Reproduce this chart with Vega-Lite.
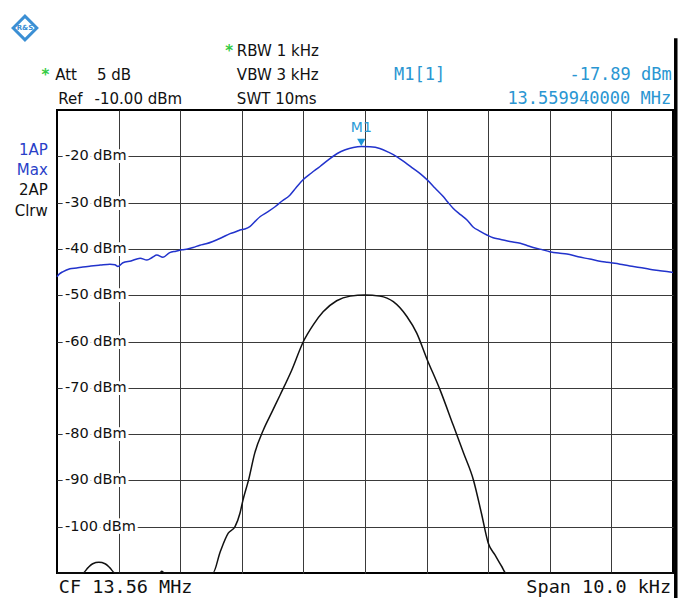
{
  "$schema": "https://vega.github.io/schema/vega-lite/v6.json",
  "width": 616,
  "height": 463,
  "autosize": "none",
  "padding": {"left": 57, "top": 110, "right": 14, "bottom": 25},
  "background": "white",
  "config": {
    "view": {"stroke": "#000000", "strokeWidth": 2},
    "axis": {"grid": true, "gridColor": "#3a3a3a", "gridWidth": 1, "gridOpacity": 1, "labels": false, "ticks": false, "domain": false, "title": null},
    "text": {"font": "DejaVu Sans"}
  },
  "datasets": {
    "traces": [
      {"f": -5.0, "dbm": -46.0, "trace": "1AP Max"},
      {"f": -4.96, "dbm": -45.4, "trace": "1AP Max"},
      {"f": -4.9, "dbm": -44.9, "trace": "1AP Max"},
      {"f": -4.79, "dbm": -44.3, "trace": "1AP Max"},
      {"f": -4.68, "dbm": -44.1, "trace": "1AP Max"},
      {"f": -4.58, "dbm": -43.9, "trace": "1AP Max"},
      {"f": -4.45, "dbm": -43.7, "trace": "1AP Max"},
      {"f": -4.3, "dbm": -43.5, "trace": "1AP Max"},
      {"f": -4.14, "dbm": -43.3, "trace": "1AP Max"},
      {"f": -4.06, "dbm": -43.4, "trace": "1AP Max"},
      {"f": -4.01, "dbm": -43.8, "trace": "1AP Max"},
      {"f": -3.93, "dbm": -43.0, "trace": "1AP Max"},
      {"f": -3.8, "dbm": -42.6, "trace": "1AP Max"},
      {"f": -3.65, "dbm": -42.0, "trace": "1AP Max"},
      {"f": -3.54, "dbm": -42.4, "trace": "1AP Max"},
      {"f": -3.45, "dbm": -41.8, "trace": "1AP Max"},
      {"f": -3.38, "dbm": -41.3, "trace": "1AP Max"},
      {"f": -3.28, "dbm": -41.8, "trace": "1AP Max"},
      {"f": -3.17, "dbm": -40.8, "trace": "1AP Max"},
      {"f": -3.07, "dbm": -40.5, "trace": "1AP Max"},
      {"f": -2.97, "dbm": -40.2, "trace": "1AP Max"},
      {"f": -2.88, "dbm": -40.0, "trace": "1AP Max"},
      {"f": -2.79, "dbm": -39.7, "trace": "1AP Max"},
      {"f": -2.68, "dbm": -39.2, "trace": "1AP Max"},
      {"f": -2.58, "dbm": -38.9, "trace": "1AP Max"},
      {"f": -2.47, "dbm": -38.4, "trace": "1AP Max"},
      {"f": -2.33, "dbm": -37.6, "trace": "1AP Max"},
      {"f": -2.19, "dbm": -36.7, "trace": "1AP Max"},
      {"f": -2.1, "dbm": -36.3, "trace": "1AP Max"},
      {"f": -2.03, "dbm": -35.9, "trace": "1AP Max"},
      {"f": -1.95, "dbm": -35.7, "trace": "1AP Max"},
      {"f": -1.87, "dbm": -35.2, "trace": "1AP Max"},
      {"f": -1.78, "dbm": -34.0, "trace": "1AP Max"},
      {"f": -1.7, "dbm": -33.0, "trace": "1AP Max"},
      {"f": -1.58, "dbm": -32.0, "trace": "1AP Max"},
      {"f": -1.46, "dbm": -30.9, "trace": "1AP Max"},
      {"f": -1.34, "dbm": -29.6, "trace": "1AP Max"},
      {"f": -1.22, "dbm": -28.4, "trace": "1AP Max"},
      {"f": -1.12, "dbm": -26.8, "trace": "1AP Max"},
      {"f": -1.01, "dbm": -25.1, "trace": "1AP Max"},
      {"f": -0.87, "dbm": -23.6, "trace": "1AP Max"},
      {"f": -0.73, "dbm": -22.2, "trace": "1AP Max"},
      {"f": -0.59, "dbm": -20.7, "trace": "1AP Max"},
      {"f": -0.45, "dbm": -19.4, "trace": "1AP Max"},
      {"f": -0.32, "dbm": -18.6, "trace": "1AP Max"},
      {"f": -0.19, "dbm": -18.1, "trace": "1AP Max"},
      {"f": -0.06, "dbm": -17.89, "trace": "1AP Max"},
      {"f": 0.08, "dbm": -17.95, "trace": "1AP Max"},
      {"f": 0.24, "dbm": -18.3, "trace": "1AP Max"},
      {"f": 0.38, "dbm": -19.1, "trace": "1AP Max"},
      {"f": 0.52, "dbm": -20.1, "trace": "1AP Max"},
      {"f": 0.65, "dbm": -21.3, "trace": "1AP Max"},
      {"f": 0.78, "dbm": -22.6, "trace": "1AP Max"},
      {"f": 0.9, "dbm": -23.8, "trace": "1AP Max"},
      {"f": 1.01, "dbm": -25.1, "trace": "1AP Max"},
      {"f": 1.14, "dbm": -26.9, "trace": "1AP Max"},
      {"f": 1.27, "dbm": -28.7, "trace": "1AP Max"},
      {"f": 1.35, "dbm": -30.0, "trace": "1AP Max"},
      {"f": 1.43, "dbm": -31.2, "trace": "1AP Max"},
      {"f": 1.55, "dbm": -32.6, "trace": "1AP Max"},
      {"f": 1.66, "dbm": -33.8, "trace": "1AP Max"},
      {"f": 1.75, "dbm": -35.2, "trace": "1AP Max"},
      {"f": 1.87, "dbm": -36.2, "trace": "1AP Max"},
      {"f": 1.98, "dbm": -37.0, "trace": "1AP Max"},
      {"f": 2.08, "dbm": -37.6, "trace": "1AP Max"},
      {"f": 2.19, "dbm": -37.9, "trace": "1AP Max"},
      {"f": 2.35, "dbm": -38.4, "trace": "1AP Max"},
      {"f": 2.52, "dbm": -38.8, "trace": "1AP Max"},
      {"f": 2.62, "dbm": -39.2, "trace": "1AP Max"},
      {"f": 2.73, "dbm": -39.7, "trace": "1AP Max"},
      {"f": 2.86, "dbm": -40.1, "trace": "1AP Max"},
      {"f": 3.0, "dbm": -40.6, "trace": "1AP Max"},
      {"f": 3.14, "dbm": -40.9, "trace": "1AP Max"},
      {"f": 3.28, "dbm": -41.1, "trace": "1AP Max"},
      {"f": 3.46, "dbm": -41.7, "trace": "1AP Max"},
      {"f": 3.65, "dbm": -42.2, "trace": "1AP Max"},
      {"f": 3.79, "dbm": -42.6, "trace": "1AP Max"},
      {"f": 3.93, "dbm": -42.9, "trace": "1AP Max"},
      {"f": 4.14, "dbm": -43.3, "trace": "1AP Max"},
      {"f": 4.3, "dbm": -43.7, "trace": "1AP Max"},
      {"f": 4.46, "dbm": -44.0, "trace": "1AP Max"},
      {"f": 4.62, "dbm": -44.4, "trace": "1AP Max"},
      {"f": 4.79, "dbm": -44.7, "trace": "1AP Max"},
      {"f": 4.9, "dbm": -44.9, "trace": "1AP Max"},
      {"f": 5.0, "dbm": -45.1, "trace": "1AP Max"},
      {"f": -5.0, "dbm": -110, "trace": "2AP Clrw"},
      {"f": -4.58, "dbm": -110, "trace": "2AP Clrw"},
      {"f": -4.5, "dbm": -108.9, "trace": "2AP Clrw"},
      {"f": -4.42, "dbm": -108.0, "trace": "2AP Clrw"},
      {"f": -4.32, "dbm": -107.7, "trace": "2AP Clrw"},
      {"f": -4.22, "dbm": -108.0, "trace": "2AP Clrw"},
      {"f": -4.14, "dbm": -108.9, "trace": "2AP Clrw"},
      {"f": -4.06, "dbm": -110, "trace": "2AP Clrw"},
      {"f": -3.33, "dbm": -110, "trace": "2AP Clrw"},
      {"f": -3.3, "dbm": -109.6, "trace": "2AP Clrw"},
      {"f": -3.26, "dbm": -110, "trace": "2AP Clrw"},
      {"f": -2.47, "dbm": -110, "trace": "2AP Clrw"},
      {"f": -2.35, "dbm": -105.4, "trace": "2AP Clrw"},
      {"f": -2.22, "dbm": -101.4, "trace": "2AP Clrw"},
      {"f": -2.11, "dbm": -100.0, "trace": "2AP Clrw"},
      {"f": -2.03, "dbm": -97.1, "trace": "2AP Clrw"},
      {"f": -1.98, "dbm": -94.2, "trace": "2AP Clrw"},
      {"f": -1.89, "dbm": -89.9, "trace": "2AP Clrw"},
      {"f": -1.79, "dbm": -84.1, "trace": "2AP Clrw"},
      {"f": -1.65, "dbm": -79.1, "trace": "2AP Clrw"},
      {"f": -1.51, "dbm": -75.2, "trace": "2AP Clrw"},
      {"f": -1.38, "dbm": -71.6, "trace": "2AP Clrw"},
      {"f": -1.19, "dbm": -66.2, "trace": "2AP Clrw"},
      {"f": -1.0, "dbm": -60.0, "trace": "2AP Clrw"},
      {"f": -0.84, "dbm": -56.4, "trace": "2AP Clrw"},
      {"f": -0.68, "dbm": -53.6, "trace": "2AP Clrw"},
      {"f": -0.46, "dbm": -51.2, "trace": "2AP Clrw"},
      {"f": -0.24, "dbm": -50.2, "trace": "2AP Clrw"},
      {"f": 0.0, "dbm": -49.96, "trace": "2AP Clrw"},
      {"f": 0.24, "dbm": -50.2, "trace": "2AP Clrw"},
      {"f": 0.46, "dbm": -51.4, "trace": "2AP Clrw"},
      {"f": 0.68, "dbm": -54.6, "trace": "2AP Clrw"},
      {"f": 0.84, "dbm": -58.2, "trace": "2AP Clrw"},
      {"f": 1.0, "dbm": -63.6, "trace": "2AP Clrw"},
      {"f": 1.22, "dbm": -70.5, "trace": "2AP Clrw"},
      {"f": 1.43, "dbm": -78.0, "trace": "2AP Clrw"},
      {"f": 1.6, "dbm": -84.1, "trace": "2AP Clrw"},
      {"f": 1.76, "dbm": -89.9, "trace": "2AP Clrw"},
      {"f": 1.89, "dbm": -97.1, "trace": "2AP Clrw"},
      {"f": 2.0, "dbm": -103.5, "trace": "2AP Clrw"},
      {"f": 2.11, "dbm": -106.1, "trace": "2AP Clrw"},
      {"f": 2.22, "dbm": -108.6, "trace": "2AP Clrw"},
      {"f": 2.29, "dbm": -110, "trace": "2AP Clrw"},
      {"f": 5.0, "dbm": -110, "trace": "2AP Clrw"}
    ],
    "ylabels": [
      {"v": -20, "lab": "-20 dBm"},
      {"v": -30, "lab": "-30 dBm"},
      {"v": -40, "lab": "-40 dBm"},
      {"v": -50, "lab": "-50 dBm"},
      {"v": -60, "lab": "-60 dBm"},
      {"v": -70, "lab": "-70 dBm"},
      {"v": -80, "lab": "-80 dBm"},
      {"v": -90, "lab": "-90 dBm"},
      {"v": -100, "lab": "-100 dBm"}
    ]
  },
  "layer": [
    {
      "data": {"name": "traces"},
      "mark": {"type": "line", "strokeWidth": 1.5, "interpolate": "monotone"},
      "encoding": {
        "x": {"field": "f", "type": "quantitative", "scale": {"domain": [-5, 5], "nice": false, "zero": false},
              "axis": {"values": [-4, -3, -2, -1, 0, 1, 2, 3, 4]}},
        "y": {"field": "dbm", "type": "quantitative", "scale": {"domain": [-110, -10], "nice": false, "zero": false},
              "axis": {"values": [-100, -90, -80, -70, -60, -50, -40, -30, -20]}},
        "color": {"field": "trace", "type": "nominal", "scale": {"domain": ["1AP Max", "2AP Clrw"], "range": ["#2233cc", "#111111"]}, "legend": null},
        "detail": {"field": "trace"}
      }
    },
    {
      "data": {"name": "ylabels"},
      "mark": {"type": "text", "align": "left", "baseline": "middle", "fontSize": 14.5, "fill": "white", "stroke": "white", "strokeWidth": 6},
      "encoding": {"x": {"datum": -4.87}, "y": {"field": "v", "type": "quantitative"}, "text": {"field": "lab"}}
    },
    {
      "data": {"name": "ylabels"},
      "mark": {"type": "text", "align": "left", "baseline": "middle", "fontSize": 14.5, "color": "#111111"},
      "encoding": {"x": {"datum": -4.87}, "y": {"field": "v", "type": "quantitative"}, "text": {"field": "lab"}}
    },
    {
      "data": {"values": [{"t": "M1"}]},
      "mark": {"type": "point", "shape": "triangle-down", "filled": true, "size": 70, "color": "#1e96d6", "opacity": 1},
      "encoding": {"x": {"datum": -0.06}, "y": {"datum": -17.0}}
    },
    {
      "data": {"values": [{"t": "M1"}]},
      "mark": {"type": "text", "align": "center", "baseline": "alphabetic", "fontSize": 14, "color": "#2a9ad6"},
      "encoding": {"x": {"datum": -0.06}, "y": {"datum": -14.7}, "text": {"field": "t"}}
    },
    {
      "data": {"values": [{}]},
      "mark": {"type": "rule", "strokeWidth": 3.5, "color": "#000000"},
      "encoding": {"x": {"datum": 5.045}, "y": {"datum": -115.5}, "y2": {"datum": 5.5}}
    },
    {
      "data": {"values": [{"t": "logo"}]},
      "mark": {"type": "point", "shape": "diamond", "filled": false, "size": 560, "strokeWidth": 3, "color": "#3b8fd4", "opacity": 1},
      "encoding": {"x": {"datum": -5.52}, "y": {"datum": 7.71}}
    },
    {
      "data": {"values": [{"t": "R&S"}]},
      "mark": {"type": "text", "align": "center", "baseline": "middle", "fontSize": 7, "color": "#3b8fd4", "fontWeight": "bold"},
      "encoding": {"x": {"datum": -5.52}, "y": {"datum": 7.71}, "text": {"field": "t"}}
    },
    {
      "data": {"values": [{"t": "*"}]},
      "mark": {"type": "text", "align": "left", "baseline": "alphabetic", "fontSize": 15, "fontWeight": "bold", "color": "#33cc44"},
      "encoding": {"x": {"datum": -2.27}, "y": {"datum": 1.77}, "text": {"field": "t"}}
    },
    {
      "data": {"values": [{"t": "*"}]},
      "mark": {"type": "text", "align": "left", "baseline": "alphabetic", "fontSize": 15, "fontWeight": "bold", "color": "#33cc44"},
      "encoding": {"x": {"datum": -5.25}, "y": {"datum": -3.52}, "text": {"field": "t"}}
    },
    {
      "data": {"values": [{"t": "RBW 1 kHz"}]},
      "mark": {"type": "text", "align": "left", "baseline": "alphabetic", "fontSize": 15, "color": "#111111"},
      "encoding": {"x": {"datum": -2.08}, "y": {"datum": 1.77}, "text": {"field": "t"}}
    },
    {
      "data": {"values": [{"t": "Att"}]},
      "mark": {"type": "text", "align": "left", "baseline": "alphabetic", "fontSize": 15, "color": "#111111"},
      "encoding": {"x": {"datum": -5.03}, "y": {"datum": -3.52}, "text": {"field": "t"}}
    },
    {
      "data": {"values": [{"t": "5 dB"}]},
      "mark": {"type": "text", "align": "left", "baseline": "alphabetic", "fontSize": 15, "color": "#111111"},
      "encoding": {"x": {"datum": -4.35}, "y": {"datum": -3.52}, "text": {"field": "t"}}
    },
    {
      "data": {"values": [{"t": "VBW 3 kHz"}]},
      "mark": {"type": "text", "align": "left", "baseline": "alphabetic", "fontSize": 15, "color": "#111111"},
      "encoding": {"x": {"datum": -2.08}, "y": {"datum": -3.52}, "text": {"field": "t"}}
    },
    {
      "data": {"values": [{"t": "Ref"}]},
      "mark": {"type": "text", "align": "left", "baseline": "alphabetic", "fontSize": 15, "color": "#111111"},
      "encoding": {"x": {"datum": -4.98}, "y": {"datum": -8.7}, "text": {"field": "t"}}
    },
    {
      "data": {"values": [{"t": "-10.00 dBm"}]},
      "mark": {"type": "text", "align": "left", "baseline": "alphabetic", "fontSize": 15, "color": "#111111"},
      "encoding": {"x": {"datum": -4.39}, "y": {"datum": -8.7}, "text": {"field": "t"}}
    },
    {
      "data": {"values": [{"t": "SWT 10ms"}]},
      "mark": {"type": "text", "align": "left", "baseline": "alphabetic", "fontSize": 15, "color": "#111111"},
      "encoding": {"x": {"datum": -2.08}, "y": {"datum": -8.7}, "text": {"field": "t"}}
    },
    {
      "data": {"values": [{"t": "M1[1]"}]},
      "mark": {"type": "text", "align": "left", "baseline": "alphabetic", "fontSize": 17, "font": "DejaVu Sans Mono", "color": "#2a96d2"},
      "encoding": {"x": {"datum": 0.47}, "y": {"datum": -3.52}, "text": {"field": "t"}}
    },
    {
      "data": {"values": [{"t": "-17.89 dBm"}]},
      "mark": {"type": "text", "align": "right", "baseline": "alphabetic", "fontSize": 17, "font": "DejaVu Sans Mono", "color": "#2a96d2"},
      "encoding": {"x": {"datum": 4.98}, "y": {"datum": -3.52}, "text": {"field": "t"}}
    },
    {
      "data": {"values": [{"t": "13.559940000 MHz"}]},
      "mark": {"type": "text", "align": "right", "baseline": "alphabetic", "fontSize": 17, "font": "DejaVu Sans Mono", "color": "#2a96d2"},
      "encoding": {"x": {"datum": 4.97}, "y": {"datum": -8.7}, "text": {"field": "t"}}
    },
    {
      "data": {"values": [{"t": "1AP"}]},
      "mark": {"type": "text", "align": "right", "baseline": "alphabetic", "fontSize": 15, "color": "#2a3fc8"},
      "encoding": {"x": {"datum": -5.15}, "y": {"datum": -19.72}, "text": {"field": "t"}}
    },
    {
      "data": {"values": [{"t": "Max"}]},
      "mark": {"type": "text", "align": "right", "baseline": "alphabetic", "fontSize": 15, "color": "#2a3fc8"},
      "encoding": {"x": {"datum": -5.15}, "y": {"datum": -24.04}, "text": {"field": "t"}}
    },
    {
      "data": {"values": [{"t": "2AP"}]},
      "mark": {"type": "text", "align": "right", "baseline": "alphabetic", "fontSize": 15, "color": "#111111"},
      "encoding": {"x": {"datum": -5.15}, "y": {"datum": -28.46}, "text": {"field": "t"}}
    },
    {
      "data": {"values": [{"t": "Clrw"}]},
      "mark": {"type": "text", "align": "right", "baseline": "alphabetic", "fontSize": 15, "color": "#111111"},
      "encoding": {"x": {"datum": -5.15}, "y": {"datum": -32.89}, "text": {"field": "t"}}
    },
    {
      "data": {"values": [{"t": "CF 13.56 MHz"}]},
      "mark": {"type": "text", "align": "left", "baseline": "bottom", "fontSize": 18.5, "font": "DejaVu Sans Mono", "color": "#111111"},
      "encoding": {"x": {"datum": -4.97}, "y": {"datum": -115.2}, "text": {"field": "t"}}
    },
    {
      "data": {"values": [{"t": "Span 10.0 kHz"}]},
      "mark": {"type": "text", "align": "right", "baseline": "bottom", "fontSize": 18.5, "font": "DejaVu Sans Mono", "color": "#111111"},
      "encoding": {"x": {"datum": 4.97}, "y": {"datum": -115.2}, "text": {"field": "t"}}
    }
  ]
}
